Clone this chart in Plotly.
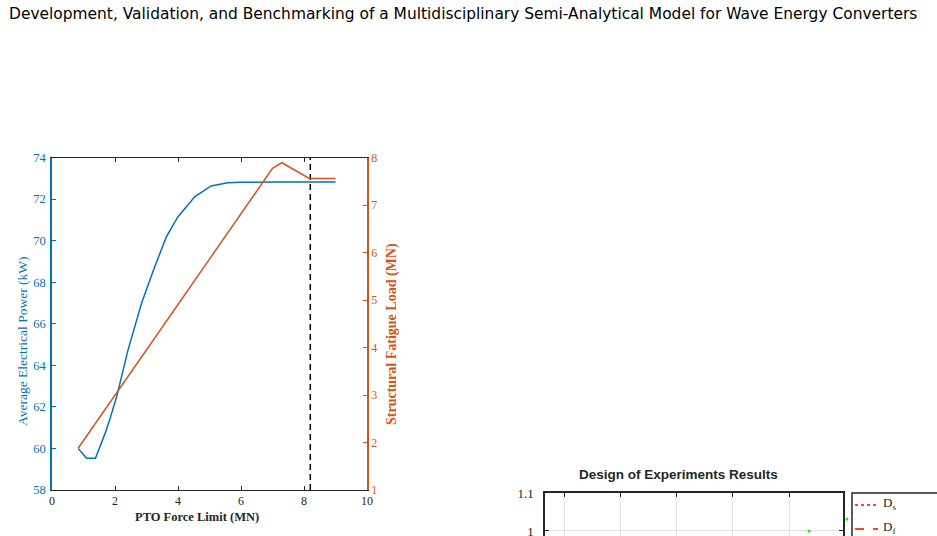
import plotly.graph_objects as go

W, H = 937, 536

# ---- data: left chart ----
pto_force = [0.83, 1.10, 1.38, 1.68, 1.84, 2.05, 2.41, 2.84, 3.26, 3.63, 4.0, 4.53, 5.05, 5.58, 6.0, 6.42, 7.0, 8.0, 9.0]
avg_power = [60.0, 59.53, 59.53, 60.7, 61.43, 62.47, 64.72, 66.97, 68.74, 70.18, 71.15, 72.11, 72.63, 72.79, 72.81, 72.82, 72.82, 72.82, 72.82]
fatigue_force = [0.83, 7.0, 7.3, 8.17, 9.0]
fatigue_load = [1.88, 7.77, 7.89, 7.56, 7.56]
force_limit = 8.2
x_ticks = [0, 2, 4, 6, 8, 10]

# ---- data: right (partial) chart ----
doe_x = [5.356, 6.03]
doe_y = [1.0, 1.0316]
doe_xticks = [1, 2, 3, 4, 5]
doe_yticks = [1.0, 1.1]
doe_yticktext = ["1", "1.1"]
legend_names = ["D<sub>s</sub>", "D<sub>f</sub>"]
legend_dashes = ["dot", "dash"]

BLUE = "#0072BD"
ORANGE = "#D95319"
DARK = "#262626"
SERIF = "Liberation Serif"


def px(p):
    return p / W


def py(p):
    return 1 - p / H


fig = go.Figure()

fig.add_trace(go.Scatter(x=pto_force, y=avg_power, mode="lines",
                         line=dict(color=BLUE, width=1.5), xaxis="x", yaxis="y", showlegend=False))
fig.add_trace(go.Scatter(x=fatigue_force, y=fatigue_load, mode="lines",
                         line=dict(color=ORANGE, width=1.5), xaxis="x", yaxis="y2", showlegend=False))
fig.add_trace(go.Scatter(x=[force_limit, force_limit], y=[58, 74], mode="lines",
                         line=dict(color="black", width=1.5, dash="6px,4px"), xaxis="x", yaxis="y", showlegend=False))

# partial DOE chart (its D_s / D_f curves lie below the visible part of the page)
for name, dash in zip(legend_names, legend_dashes):
    fig.add_trace(go.Scatter(x=[], y=[], mode="lines", name=name,
                             line=dict(color="red", width=1.5, dash=dash), xaxis="x3", yaxis="y3",
                             showlegend=False))

x3_range = [0.662, 5.96]
y3_range = [0.9868, 1.1]
x3_l, x3_r = 545, 843
scale = (x3_r - x3_l) / (x3_range[1] - x3_range[0])
x4_r = 880
x4_range = [x3_range[0], x3_range[0] + (x4_r - x3_l) / scale]

# markers on an invisible, wider subplot with the same scale (so the edge point shows)
fig.add_trace(go.Scatter(x=doe_x, y=doe_y, mode="markers", cliponaxis=False,
                         marker=dict(color="#00FF00", size=3), xaxis="x4", yaxis="y4", showlegend=False))

fig.update_layout(
    width=W, height=H,
    margin=dict(l=0, r=0, t=0, b=0, autoexpand=False),
    paper_bgcolor="white", plot_bgcolor="rgba(0,0,0,0)",
    showlegend=False,
    xaxis=dict(domain=[px(52), px(367)], range=[0, 10], tickvals=x_ticks,
               ticks="inside", ticklen=4, tickcolor=DARK, showline=True, linecolor=DARK,
               linewidth=1, mirror="ticks", showgrid=False, zeroline=False,
               tickfont=dict(family=SERIF, size=12, color=DARK), anchor="y"),
    yaxis=dict(domain=[py(490), py(157.5)], range=[58, 74], dtick=2,
               ticks="inside", ticklen=4, tickcolor=BLUE, showline=True, linecolor=BLUE,
               linewidth=1.5, showgrid=False, zeroline=False, ticklabelstandoff=2,
               tickfont=dict(family=SERIF, size=12.5, color=BLUE), anchor="x"),
    yaxis2=dict(domain=[py(490), py(157.5)], range=[1, 8], dtick=1, overlaying="y", side="right",
                ticks="inside", ticklen=4, tickcolor=ORANGE, showline=True, linecolor=ORANGE,
                linewidth=1.5, showgrid=False, zeroline=False,
                tickfont=dict(family=SERIF, size=12, color=ORANGE), anchor="x"),
    xaxis3=dict(domain=[px(x3_l), px(x3_r)], range=x3_range, tickvals=doe_xticks,
                side="top", ticks="inside", ticklen=4, tickcolor=DARK, showticklabels=False,
                showline=True, linecolor=DARK, linewidth=1.5, showgrid=True, gridcolor="#e3e3e3",
                zeroline=False, anchor="y3"),
    yaxis3=dict(domain=[0, py(493)], range=y3_range, tickvals=doe_yticks, ticktext=doe_yticktext,
                ticks="inside", ticklen=4, tickcolor=DARK, showline=True, linecolor=DARK,
                linewidth=1.5, mirror="ticks", showgrid=True, gridcolor="#e3e3e3", zeroline=False,
                tickfont=dict(family=SERIF, size=13, color=DARK), anchor="x3", ticklabelstandoff=7,
                ticklabeloverflow="allow"),
    xaxis4=dict(domain=[px(x3_l), px(x4_r)], range=x4_range, visible=False, anchor="y4"),
    yaxis4=dict(domain=[0, py(493)], range=y3_range, visible=False, anchor="x4"),
)

annotations = [
    dict(text="Development, Validation, and Benchmarking of a Multidisciplinary Semi-Analytical Model for Wave Energy Converters",
         x=px(7), y=py(14), xanchor="left", yanchor="middle", showarrow=False,
         font=dict(family="DejaVu Sans", size=15.45, color="black")),
    dict(text="Average Electrical Power (kW)", textangle=-90, x=px(22), y=py(341),
         xanchor="center", yanchor="middle", showarrow=False,
         font=dict(family=SERIF, size=13.5, color=BLUE)),
    dict(text="<b>Structural Fatigue Load (MN)</b>", textangle=-90, x=px(392), y=py(334),
         xanchor="center", yanchor="middle", showarrow=False,
         font=dict(family=SERIF, size=14, color=ORANGE)),
    dict(text="<b>PTO Force Limit (MN)</b>", x=px(197), y=py(517),
         xanchor="center", yanchor="middle", showarrow=False,
         font=dict(family=SERIF, size=12.5, color=DARK)),
    dict(text="<b>Design of Experiments Results</b>", x=px(678), y=py(474),
         xanchor="center", yanchor="middle", showarrow=False,
         font=dict(family="Liberation Sans", size=13.5, color=DARK)),
]

# manual legend (box is cut off by the page edge, as in the reference)
shapes = [dict(type="rect", xref="paper", yref="paper", x0=px(852), x1=px(960), y0=py(493), y1=py(560),
               line=dict(color=DARK, width=1.5), fillcolor="white", layer="above")]
legend_rows = [505, 529]
for name, dash, row in zip(legend_names, legend_dashes, legend_rows):
    shapes.append(dict(type="line", xref="paper", yref="paper", x0=px(855), x1=px(878),
                       y0=py(row), y1=py(row), line=dict(color="red", width=1.5, dash=dash), layer="above"))
    annotations.append(dict(text=name, x=px(881), y=py(row - 2), xanchor="left", yanchor="middle",
                            showarrow=False, font=dict(family=SERIF, size=13, color=DARK)))

for a in annotations:
    a["xref"] = "paper"
    a["yref"] = "paper"
fig.update_layout(annotations=annotations, shapes=shapes)

fig.write_html("out.html", config={"displayModeBar": False})
